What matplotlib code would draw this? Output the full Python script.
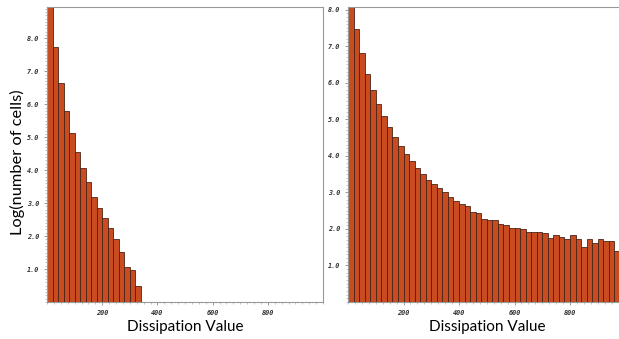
import matplotlib
matplotlib.use('Agg')
from matplotlib import pyplot
import matplotlib.ticker as ticker
import numpy

# bin width 20, histogram of log counts
bin_width = 20

left_heights = [9.6, 7.75, 6.63, 5.80, 5.12, 4.55, 4.07, 3.63, 3.20, 2.84,
                2.55, 2.23, 1.91, 1.51, 1.05, 0.98, 0.49]

right_heights = [8.6, 7.47, 6.81, 6.25, 5.79, 5.41, 5.08, 4.78, 4.52, 4.28,
                 4.05, 3.87, 3.66, 3.51, 3.35, 3.22, 3.11, 3.00, 2.87, 2.77,
                 2.67, 2.62, 2.47, 2.44, 2.26, 2.23, 2.23, 2.13, 2.12, 2.02,
                 2.03, 2.00, 1.91, 1.91, 1.92, 1.88, 1.75, 1.84, 1.77, 1.73,
                 1.83, 1.73, 1.51, 1.72, 1.61, 1.72, 1.68, 1.68, 1.39, 1.40]

x_ticks = [200, 400, 600, 800]
y_ticks = [1, 2, 3, 4, 5, 6, 7, 8]

bar_color = '#c84c1f'
edge_color = '#4a2418'
W, H = 619, 339

tick_font = dict(family='DejaVu Sans Mono', style='italic', weight='bold', size=4.9)
label_font = dict(family='Lato', size=11)


def style_axes(ax, ymax):
    ax.set_xlim(0, 1000)
    ax.set_ylim(0, ymax)
    ax.set_xticks(x_ticks)
    ax.set_yticks(y_ticks)
    ax.xaxis.set_minor_locator(ticker.MultipleLocator(25))
    ax.yaxis.set_minor_locator(ticker.MultipleLocator(0.1))
    ax.yaxis.set_major_formatter(ticker.FormatStrFormatter('%.1f'))
    for lab in ax.get_xticklabels() + ax.get_yticklabels():
        lab.set_fontfamily(tick_font['family'])
        lab.set_style(tick_font['style'])
        lab.set_weight(tick_font['weight'])
        lab.set_fontsize(tick_font['size'])
        lab.set_color('#333333')
    ax.tick_params(which='major', length=2.5, width=0.6, color='#888888', pad=3)
    ax.tick_params(which='minor', length=1.5, width=0.4, color='#999999')
    for s in ax.spines.values():
        s.set_color('#999999')
        s.set_linewidth(0.8)


fig = pyplot.figure(figsize=(W / 100, H / 100), dpi=100)

ax1 = fig.add_axes([47 / W, 37 / H, 276 / W, 295 / H])
edges1 = numpy.arange(len(left_heights)) * bin_width
ax1.bar(edges1, left_heights, width=bin_width, align='edge',
        color=bar_color, edgecolor=edge_color, linewidth=0.6)
style_axes(ax1, 8.95)

ax2 = fig.add_axes([348 / W, 37 / H, 277.5 / W, 295 / H])
edges2 = numpy.arange(len(right_heights)) * bin_width
ax2.bar(edges2, right_heights, width=bin_width, align='edge',
        color=bar_color, edgecolor=edge_color, linewidth=0.6)
style_axes(ax2, 8.07)

# axis titles placed in pixel terms
fig.text(185 / W, 1 - 327 / H, 'Dissipation Value', ha='center', va='center', **label_font)
fig.text(487 / W, 1 - 327 / H, 'Dissipation Value', ha='center', va='center', **label_font)
fig.text(17 / W, 1 - 162 / H, 'Log(number of cells)', ha='center', va='center',
         rotation=90, family='Lato', size=11.8)

pyplot.savefig('out.png', dpi=100)
